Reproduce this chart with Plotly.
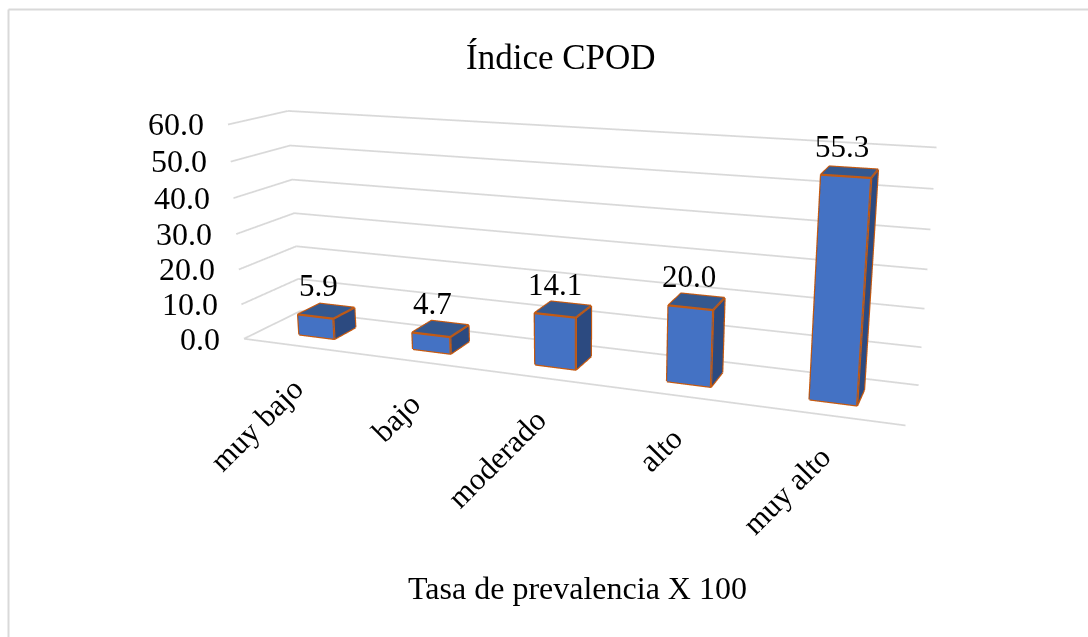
import plotly.graph_objects as go

categories = ["muy bajo", "bajo", "moderado", "alto", "muy alto"]
values = [5.9, 4.7, 14.1, 20.0, 55.3]
value_labels = ["5.9", "4.7", "14.1", "20.0", "55.3"]
y_ticks = [0, 10, 20, 30, 40, 50, 60]
y_tick_labels = ["0.0", "10.0", "20.0", "30.0", "40.0", "50.0", "60.0"]
title_text = "Índice CPOD"
x_title = "Tasa de prevalencia X 100"

FIG_W, FIG_H, TOP = 1088, 1032, 244
CX, CY, DH = 581.64, 271.30, 1029.19
SERIF = "Liberation Serif, Times New Roman, serif"
BAR_HALF, Y0, Y1 = 0.15833, 0.3102, 0.70909
FRONT, TOP_C, SIDE = "#4472C4", "#34588F", "#2C4A80"
EDGE, GRID = "#C55A11", "#D9D9D9"

def px(x):
    return x / FIG_W

def py(y):
    return 1 - (y + TOP) / FIG_H

fig = go.Figure()

# gridlines
gx, gy, gz = [], [], []
for t in y_ticks:
    gx += [0, 0, 5, None]
    gy += [0, 1, 1, None]
    gz += [t, t, t, None]
gx += [0, 5]
gy += [0, 0]
gz += [0, 0]
fig.add_trace(go.Scatter3d(x=gx, y=gy, z=gz, mode="lines", line=dict(color=GRID, width=3.5),
                           hoverinfo="skip", showlegend=False))

# bars
for i, v in enumerate(values):
    l, r = i + 0.5 - BAR_HALF, i + 0.5 + BAR_HALF
    vx = [l, r, r, l, l, r, r, l]
    vy = [Y0, Y0, Y1, Y1, Y0, Y0, Y1, Y1]
    vz = [0, 0, 0, 0, v, v, v, v]
    tris = [(0, 1, 5, FRONT), (0, 5, 4, FRONT),
            (4, 5, 6, TOP_C), (4, 6, 7, TOP_C),
            (1, 2, 6, SIDE), (1, 6, 5, SIDE),
            (0, 4, 7, SIDE), (0, 7, 3, SIDE),
            (3, 7, 6, SIDE), (3, 6, 2, SIDE)]
    fig.add_trace(go.Mesh3d(x=vx, y=vy, z=vz,
                            i=[t[0] for t in tris], j=[t[1] for t in tris], k=[t[2] for t in tris],
                            facecolor=[t[3] for t in tris], flatshading=True,
                            lighting=dict(ambient=1, diffuse=0, specular=0, fresnel=0, roughness=1),
                            hoverinfo="skip", showlegend=False, showscale=False))
    ex = [l, r, r, l, l, None, l, l, r, r, r, None, r, r]
    ey = [Y0, Y0, Y0, Y0, Y0, None, Y0, Y1, Y1, Y0, Y0, None, Y1, Y1]
    ez = [0, 0, v, v, 0, None, v, v, v, v, v, None, v, 0]
    ex += [None, r, r]
    ey += [None, Y0, Y1]
    ez += [None, 0, 0]
    fig.add_trace(go.Scatter3d(x=ex, y=ey, z=ez, mode="lines", line=dict(color=EDGE, width=4.5),
                               hoverinfo="skip", showlegend=False))

scene_ann = []
for t, lab in zip(y_ticks, y_tick_labels):
    scene_ann.append(dict(x=0, y=0, z=t, text=lab, showarrow=False, xanchor="right", yanchor="middle",
                          xshift=-22, yshift=0, font=dict(family=SERIF, size=32, color="#000000")))
for i, (v, lab) in enumerate(zip(values, value_labels)):
    scene_ann.append(dict(x=i + 0.5, y=(Y0 + Y1) / 2, z=v, text=lab, showarrow=False, xanchor="center",
                          yanchor="middle", xshift=-8, yshift=25, font=dict(family=SERIF, size=31, color="#000000")))
for i, lab in enumerate(categories):
    scene_ann.append(dict(x=i + 0.5, y=0, z=0, text=lab, showarrow=False, textangle=-45, xanchor="right",
                          yanchor="top", xshift=13, yshift=-22, font=dict(family=SERIF, size=31, color="#000000")))

fig.update_layout(
    width=FIG_W, height=FIG_H, margin=dict(l=0, r=0, t=0, b=0), autosize=False,
    paper_bgcolor="white", showlegend=False,
    scene=dict(
        domain=dict(x=[px(2 * CX - FIG_W), 1], y=[1 - (CY + TOP + DH / 2) / FIG_H, 1 - (CY + TOP - DH / 2) / FIG_H]),
        xaxis=dict(visible=False, range=[0, 5]),
        yaxis=dict(visible=False, range=[0, 1]),
        zaxis=dict(visible=False, range=[0, 60]),
        aspectmode="manual", aspectratio=dict(x=3.00229, y=0.47055, z=1),
        bgcolor="rgba(0,0,0,0)",
        camera=dict(eye=dict(x=1.90269, y=-4.82259, z=1.31176),
                    center=dict(x=0.08355, y=0.01016, z=-0.08699),
                    up=dict(x=0.00191, y=0.00287, z=1)),
        annotations=scene_ann,
    ),
    annotations=[
        dict(xref="paper", yref="paper", x=px(561), y=py(57), text=title_text, showarrow=False,
             xanchor="center", yanchor="middle", font=dict(family=SERIF, size=35, color="#000000")),
        dict(xref="paper", yref="paper", x=px(577), y=py(588), text=x_title, showarrow=False,
             xanchor="center", yanchor="middle", font=dict(family=SERIF, size=32, color="#000000")),
    ],
    shapes=[
        dict(type="line", xref="paper", yref="paper", x0=px(8.5), x1=1, y0=py(9.5), y1=py(9.5),
             line=dict(color=GRID, width=2)),
        dict(type="line", xref="paper", yref="paper", x0=px(8.5), x1=px(8.5), y0=py(9.5), y1=py(637),
             line=dict(color=GRID, width=2)),
    ],
)

post = f"""
document.documentElement.style.overflow='hidden';
document.body.style.overflow='hidden';
document.body.style.margin='0';
var gd=document.getElementsByClassName('plotly-graph-div')[0];
gd.style.position='absolute';gd.style.left='0px';gd.style.top='-{TOP}px';
"""
fig.write_html("out.html", post_script=post)
